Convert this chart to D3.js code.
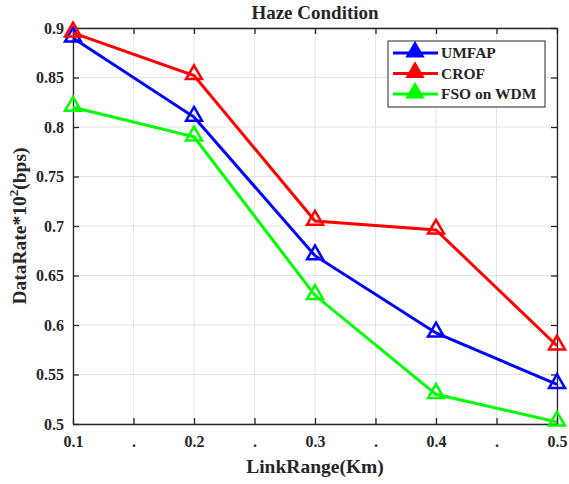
<!DOCTYPE html>
<html>
<head>
<meta charset="utf-8">
<script src="https://cdn.jsdelivr.net/npm/d3@7"></script>
<style>
  body { margin: 0; background: #fff; }
  text { font-family: "Liberation Serif", "Times New Roman", serif; font-weight: bold; fill: #262626; }
</style>
</head>
<body>
<script>
const linkRange = [0.1, 0.2, 0.3, 0.4, 0.5]
const umfap = [0.89, 0.81, 0.67, 0.592, 0.54]
const crof = [0.895, 0.852, 0.705, 0.696, 0.579]
const fsoWdm = [0.82, 0.79, 0.63, 0.53, 0.502]
const xTicks = [0.1, 0.15, 0.2, 0.25, 0.3, 0.35, 0.4, 0.45, 0.5]
const xTickLabels = ['0.1', '.', '0.2', '.', '0.3', '.', '0.4', '.', '0.5']
const yTicks = [0.5, 0.55, 0.6, 0.65, 0.7, 0.75, 0.8, 0.85, 0.9]

const series = [
  { name: 'UMFAP', values: umfap, color: '#0000ff' },
  { name: 'CROF', values: crof, color: '#ff0000' },
  { name: 'FSO on WDM', values: fsoWdm, color: '#00ff00' }
]

const width = 569, height = 484
const margin = { top: 28, right: 12, bottom: 60, left: 73 }
const iw = width - margin.left - margin.right
const ih = height - margin.top - margin.bottom

const svg = d3.select('body').append('svg')
  .attr('width', width)
  .attr('height', height)

const g = svg.append('g').attr('transform', `translate(${margin.left},${margin.top})`)

const x = d3.scaleLinear().domain([0.1, 0.5]).range([0, iw])
const y = d3.scaleLinear().domain([0.5, 0.9]).range([ih, 0])

// grid
g.append('g').selectAll('line.gx').data(xTicks).enter().append('line')
  .attr('x1', d => x(d)).attr('x2', d => x(d))
  .attr('y1', 0).attr('y2', ih)
  .attr('stroke', '#e3e3e3').attr('stroke-width', 1)
g.append('g').selectAll('line.gy').data(yTicks).enter().append('line')
  .attr('x1', 0).attr('x2', iw)
  .attr('y1', d => y(d)).attr('y2', d => y(d))
  .attr('stroke', '#e3e3e3').attr('stroke-width', 1)

// axes
const fmtX = (d, i) => xTickLabels[i]
const xAxis = g.append('g').attr('transform', `translate(0,${ih})`)
  .call(d3.axisBottom(x).tickValues(xTicks).tickFormat(fmtX).tickSizeInner(-6).tickSizeOuter(0).tickPadding(12))
const xTop = g.append('g')
  .call(d3.axisTop(x).tickValues(xTicks).tickFormat('').tickSizeInner(-6).tickSizeOuter(0))
const yAxis = g.append('g')
  .call(d3.axisLeft(y).tickValues(yTicks).tickFormat(d3.format('~g')).tickSizeInner(-6).tickSizeOuter(0).tickPadding(9))
const yRight = g.append('g').attr('transform', `translate(${iw},0)`)
  .call(d3.axisRight(y).tickValues(yTicks).tickFormat('').tickSizeInner(-6).tickSizeOuter(0))

;[xAxis, xTop, yAxis, yRight].forEach(a => {
  a.select('.domain').attr('stroke', '#262626').attr('stroke-width', 1.3)
  a.selectAll('.tick line').attr('stroke', '#262626').attr('stroke-width', 1.3)
  a.selectAll('text').style('font-size', '16px')
    .style('font-family', '"Liberation Serif", serif').style('font-weight', 'bold').attr('fill', '#262626')
})

const line = d3.line().x((d, i) => x(linkRange[i])).y(d => y(d))
const tri = d3.symbol().type(d3.symbolTriangle).size(110)

series.forEach(s => {
  g.append('path').datum(s.values)
    .attr('d', line)
    .attr('fill', 'none')
    .attr('stroke', s.color)
    .attr('stroke-width', 3)
  g.selectAll(null).data(s.values).enter().append('path')
    .attr('d', tri)
    .attr('transform', (d, i) => `translate(${x(linkRange[i])},${y(d) - 1})`)
    .attr('fill', 'none')
    .attr('stroke', s.color)
    .attr('stroke-width', 2.5)
})

// legend
const lg = svg.append('g').attr('transform', 'translate(388,41)')
lg.append('rect').attr('width', 157).attr('height', 66)
  .attr('fill', '#fff').attr('stroke', '#262626').attr('stroke-width', 1)
series.forEach((s, i) => {
  const yy = 12 + i * 20.5
  lg.append('line').attr('x1', 5).attr('x2', 50).attr('y1', yy).attr('y2', yy)
    .attr('stroke', s.color).attr('stroke-width', 3)
  lg.append('path').attr('d', tri).attr('transform', `translate(27,${yy - 1})`)
    .attr('fill', s.color).attr('stroke', s.color).attr('stroke-width', 2)
  lg.append('text').attr('x', 53).attr('y', yy + 5).text(s.name).style('font-size', '15.5px')
})

// title and labels
svg.append('text').attr('x', margin.left + iw / 2).attr('y', 19)
  .attr('text-anchor', 'middle').style('font-size', '19px').text('Haze Condition')
svg.append('text').attr('x', margin.left + iw / 2).attr('y', 473)
  .attr('text-anchor', 'middle').style('font-size', '19.5px').text('LinkRange(Km)')
const yl = svg.append('text').attr('transform', `translate(26,226) rotate(-90)`)
  .attr('text-anchor', 'middle').style('font-size', '19.5px')
yl.append('tspan').text('DataRate*10')
yl.append('tspan').attr('dy', -8).style('font-size', '13px').text('2')
yl.append('tspan').attr('dy', 8).text('(bps)')
</script>
</body>
</html>
